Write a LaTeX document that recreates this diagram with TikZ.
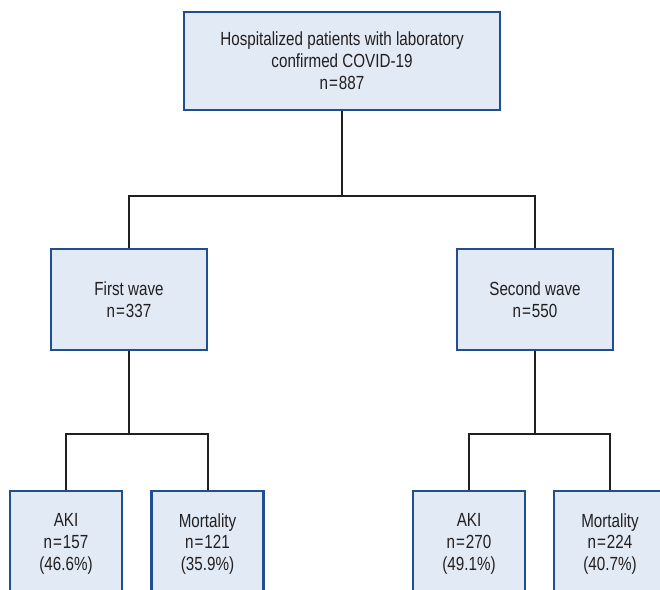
\documentclass[tikz,border=0pt]{standalone}
\usepackage{fontspec}
\setmainfont{Liberation Sans}[FakeStretch=0.8]
\definecolor{boxline}{HTML}{1F4F8F}
\definecolor{boxfill}{HTML}{E1EAF5}
\definecolor{conn}{HTML}{231F20}
\newcommand{\eqs}{\kern1pt=\kern1pt}
\begin{document}
\begin{tikzpicture}[x=1pt,y=-1pt,
  box/.style={draw=boxline,fill=boxfill,line width=2.8pt,rectangle,align=center,
    font=\fontsize{19}{21.8}\selectfont,text=conn,inner sep=0pt},
  conn/.style={draw=conn,line width=2pt}]
\clip (0,0) rectangle (660,589);
\fill[white] (0,0) rectangle (660,589);
\node[box,minimum width=316pt,minimum height=98pt] (top) at (342,61)
  {Hospitalized patients with laboratory\\confirmed COVID-19\\n\eqs887};
\node[box,minimum width=156pt,minimum height=101pt] (w1) at (129,299.5) {First wave\\n\eqs337};
\node[box,minimum width=156pt,minimum height=101pt] (w2) at (535,299.5) {Second wave\\n\eqs550};
\node[box,minimum width=112pt,minimum height=106pt] (a1) at (66,544) {AKI\\n\eqs157\\(46.6\%)};
\node[box,minimum width=112pt,minimum height=106pt] (m1) at (207.5,544) {Mortality\\n\eqs121\\(35.9\%)};
\node[box,minimum width=112pt,minimum height=106pt] (a2) at (469,544) {AKI\\n\eqs270\\(49.1\%)};
\node[box,minimum width=112pt,minimum height=106pt] (m2) at (610,544) {Mortality\\n\eqs224\\(40.7\%)};
\coordinate (j0) at (342,196);
\coordinate (j1) at (129,434);
\coordinate (j2) at (535,434);
\draw[conn] (top.south) -- (j0);
\draw[conn] (w1.north) |- (j0) -| (w2.north);
\draw[conn] (w1.south) -- (j1);
\draw[conn] (a1.north) |- (j1) -| (m1.north);
\draw[conn] (w2.south) -- (j2);
\draw[conn] (a2.north) |- (j2) -| (m2.north);
\end{tikzpicture}
\end{document}
